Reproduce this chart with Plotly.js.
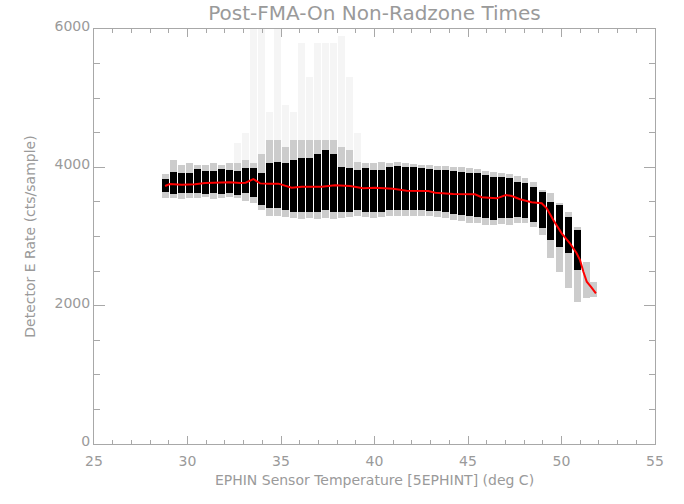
<!DOCTYPE html>
<html>
<head>
<meta charset="utf-8">
<script src="https://cdn.plot.ly/plotly-3.0.1.min.js"></script>
<style>html,body{margin:0;padding:0;background:#fff;}#chart{width:684px;height:504px;}</style>
</head>
<body>
<div id="chart"></div>
<script>
// Temperature of each quantised column (deg C)
const colTemp = [28.83,29.26,29.69,30.12,30.55,30.97,31.40,31.83,32.26,32.68,
  33.11,33.54,33.97,34.40,34.82,35.25,35.68,36.11,36.53,36.96,
  37.39,37.82,38.25,38.67,39.10,39.53,39.96,40.39,40.80,41.23,
  41.66,42.09,42.51,42.94,43.37,43.80,44.22,44.65,45.08,45.51,
  45.94,46.36,46.79,47.22,47.65,48.05,48.50,48.96,49.42,49.89,
  50.36,50.84,51.34,51.71];
// Dense core of each column (cts/sample)
const coreLo = [3650,3620,3625,3625,3625,3615,3625,3610,3625,3600,
  3625,3570,3455,3405,3405,3385,3360,3360,3360,3360,
  3385,3360,3360,3360,3385,3360,3360,3360,3383,3383,
  3383,3383,3383,3374,3374,3359,3325,3311,3296,3287,
  3263,3239,3263,3263,3287,3263,3215,3118,2949,2853,
  2757,2515,null,null];
const coreHi = [3830,3930,3915,3925,3970,3940,3940,3970,3960,3950,
  3985,3985,3915,4060,4080,4060,4100,4130,4130,4200,
  4250,4200,4010,3985,3960,3985,3960,3960,4000,4019,
  4010,4000,3986,3971,3961,3961,3952,3937,3923,3913,
  3889,3865,3855,3841,3793,3769,3720,3648,3504,3455,
  3287,3094,null,null];
// Sparse fringe of points around each core
const fringeLo = [3550,3560,3540,3550,3550,3570,3540,3550,3570,3550,
  3520,3480,3380,3290,3300,3280,3270,3260,3270,3260,
  3270,3260,3270,3280,3300,3280,3270,3280,3300,3300,
  3300,3300,3300,3290,3280,3270,3240,3220,3200,3190,
  3170,3170,3180,3170,3200,3190,3140,3020,2684,2490,
  2250,2060,2106,2130];
const fringeHi = [3900,4100,4030,4060,4030,4040,4060,4040,4060,4060,
  4110,4060,4200,4400,4400,4300,4400,4400,4400,4400,
  4400,4400,4300,4250,4080,4060,4060,4080,4060,4080,
  4060,4050,4040,4030,4020,4020,4000,4000,3990,3980,
  3950,3930,3920,3900,3880,3850,3790,3672,3624,3480,
  3360,3140,2636,2347];
// Scattered high outliers
const outLo = [null,null,null,null,null,null,null,null,null,4060,
  4110,4060,4200,4400,4400,4300,4400,4400,4400,4400,
  4400,4400,4300,4250,4080,null,null,null,null,null,
  null,null,null,null,null,null,null,null,null,null,
  null,null,null,null,null,null,null,null,null,null,
  null,null,null,null];
const outHi = [null,null,null,null,null,null,null,null,null,4350,
  4500,6000,6000,4800,6000,4900,4800,5800,5300,5800,
  5800,5800,5900,5300,4500,null,null,null,null,null,
  null,null,null,null,null,null,null,null,null,null,
  null,null,null,null,null,null,null,null,null,null,
  null,null,null,null];
// Red running-mean line
const redT = [28.80,29.06,29.69,30.40,30.94,31.83,32.27,32.81,33.11,33.52,
  33.88,34.32,34.86,35.57,36.11,37.18,37.89,38.69,39.40,40.03,
  40.56,41.00,41.72,42.88,43.24,44.21,45.37,45.73,46.53,47.03,
  47.34,47.78,48.40,48.94,49.21,49.56,50.01,50.45,50.81,50.99,
  51.17,51.35,51.61,51.84];
const redV = [3730,3759,3749,3754,3773,3783,3783,3773,3778,3831,
  3768,3764,3764,3706,3720,3720,3740,3730,3697,3706,
  3697,3692,3663,3658,3634,3615,3610,3567,3552,3600,
  3586,3538,3494,3480,3408,3239,3046,2902,2757,2660,
  2491,2347,2260,2178];

function span(lo, hi) { return lo.map((v, i) => (v == null || hi[i] == null) ? null : hi[i] - v); }

const barW = 0.37;
const gray = '#a8a8a8';
const txt = '#9a9a9a';

const traces = [
  {type: 'bar', x: colTemp, base: outLo, y: span(outLo, outHi), width: barW,
   marker: {color: 'rgba(0,0,0,0.04)', line: {width: 0}}, hoverinfo: 'skip'},
  {type: 'bar', x: colTemp, base: fringeLo, y: span(fringeLo, fringeHi), width: barW,
   marker: {color: 'rgba(0,0,0,0.2)', line: {width: 0}}, hoverinfo: 'skip'},
  {type: 'bar', x: colTemp, base: coreLo, y: span(coreLo, coreHi), width: barW,
   marker: {color: '#000', line: {width: 0}}, hoverinfo: 'skip'},
  {type: 'scatter', mode: 'lines', x: redT, y: redV,
   line: {color: '#ff0000', width: 2}}
];

const layout = {
  width: 684, height: 504,
  margin: {l: 94, r: 29, t: 29, b: 60},
  paper_bgcolor: '#fff', plot_bgcolor: '#fff',
  showlegend: false, barmode: 'overlay', bargap: 0,
  font: {family: 'DejaVu Sans', color: txt, size: 14},
  title: {text: 'Post-FMA-On Non-Radzone Times', font: {size: 20, color: txt},
          x: 0.5, xref: 'paper', y: 1 - 13/504, yref: 'container', yanchor: 'middle'},
  xaxis: {range: [25, 55], dtick: 5, tick0: 25, ticks: 'inside', ticklen: 8, tickwidth: 1,
          tickcolor: gray, showline: true, linecolor: gray, linewidth: 1, mirror: 'ticks',
          showgrid: false, zeroline: false, tickfont: {size: 14, color: txt},
          ticklabelstandoff: 4,
          minor: {dtick: 1, ticks: 'inside', ticklen: 4, tickcolor: gray, showgrid: false},
          title: {text: 'EPHIN Sensor Temperature [5EPHINT] (deg C)', font: {size: 14, color: txt}, standoff: 7}},
  yaxis: {range: [0, 6000], dtick: 2000, tick0: 0, ticks: 'inside', ticklen: 11, tickwidth: 1,
          tickcolor: gray, showline: true, linecolor: gray, linewidth: 1, mirror: 'ticks',
          showgrid: false, zeroline: false, tickfont: {size: 14, color: txt},
          ticklabelshift: -3,
          minor: {dtick: 500, ticks: 'inside', ticklen: 6, tickcolor: gray, showgrid: false},
          title: {text: 'Detector E Rate (cts/sample)', font: {size: 14, color: txt}, standoff: 15}}
};

Plotly.newPlot('chart', traces, layout, {displayModeBar: false, staticPlot: true});
</script>
</body>
</html>
